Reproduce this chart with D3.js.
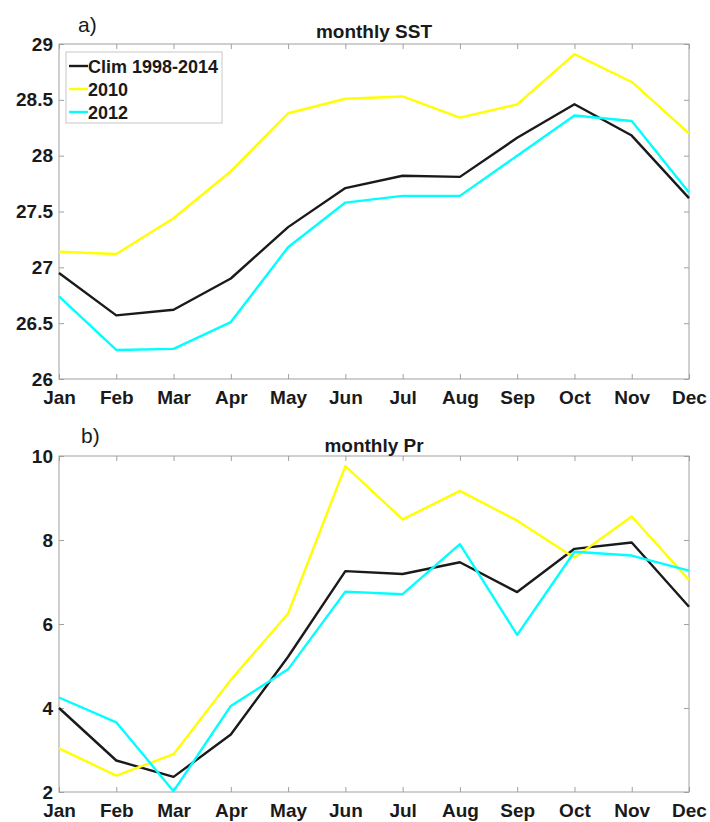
<!DOCTYPE html>
<html>
<head>
<meta charset="utf-8">
<script src="https://cdn.jsdelivr.net/npm/d3@7"></script>
<style>
  html, body { margin: 0; padding: 0; background: #fff; }
  text { font-family: "Liberation Sans", Arial, sans-serif; }
</style>
</head>
<body>
<svg id="chart" width="710" height="822"></svg>
<script>
const months = ["Jan","Feb","Mar","Apr","May","Jun","Jul","Aug","Sep","Oct","Nov","Dec"];
const seriesNames = ["Clim 1998-2014", "2010", "2012"];
const seriesColors = ["#1a1a1a", "#ffff00", "#00ffff"];

const sstClim = [26.95, 26.57, 26.62, 26.90, 27.36, 27.71, 27.82, 27.81, 28.16, 28.46, 28.18, 27.62];
const sst2010 = [27.14, 27.12, 27.44, 27.86, 28.38, 28.51, 28.53, 28.34, 28.46, 28.91, 28.66, 28.20];
const sst2012 = [26.74, 26.26, 26.27, 26.51, 27.18, 27.58, 27.64, 27.64, 28.00, 28.36, 28.31, 27.67];
const sstTicks = [26, 26.5, 27, 27.5, 28, 28.5, 29];

const prClim = [4.00, 2.75, 2.36, 3.37, 5.22, 7.26, 7.19, 7.47, 6.76, 7.79, 7.94, 6.41];
const pr2010 = [3.04, 2.39, 2.90, 4.67, 6.25, 9.76, 8.49, 9.17, 8.46, 7.58, 8.56, 7.05];
const pr2012 = [4.25, 3.66, 2.02, 4.05, 4.92, 6.77, 6.71, 7.90, 5.74, 7.72, 7.63, 7.27];
const prTicks = [2, 4, 6, 8, 10];

const svg = d3.select("#chart");
const FS = 19;

function panel(cfg) {
  const g = svg.append("g");
  const x = d3.scalePoint().domain(months).range([cfg.left, cfg.right]);
  const y = d3.scaleLinear().domain(cfg.domain).range([cfg.bottom, cfg.top]);
  const axisColor = "#a0a0a0";

  g.append("rect")
    .attr("x", cfg.left).attr("y", cfg.top)
    .attr("width", cfg.right - cfg.left).attr("height", cfg.bottom - cfg.top)
    .attr("fill", "none").attr("stroke", axisColor).attr("stroke-width", 1);

  const xa = g.append("g").attr("transform", `translate(0,${cfg.bottom})`)
    .call(d3.axisBottom(x).tickSize(-5).tickPadding(12));
  xa.select(".domain").remove();
  xa.selectAll("line").attr("stroke", axisColor);
  xa.selectAll("text").attr("fill", "#1a1a1a").attr("font-size", FS).attr("font-weight", "bold");
  const xt = g.append("g").attr("transform", `translate(0,${cfg.top})`)
    .call(d3.axisTop(x).tickSize(-5).tickFormat(""));
  xt.select(".domain").remove();
  xt.selectAll("line").attr("stroke", axisColor);

  const ya = g.append("g").attr("transform", `translate(${cfg.left},0)`)
    .call(d3.axisLeft(y).tickValues(cfg.ticks).tickSize(-5).tickPadding(6).tickFormat(d3.format("")));
  ya.select(".domain").remove();
  ya.selectAll("line").attr("stroke", axisColor);
  ya.selectAll("text").attr("fill", "#1a1a1a").attr("font-size", FS).attr("font-weight", "bold");
  const yr = g.append("g").attr("transform", `translate(${cfg.right},0)`)
    .call(d3.axisRight(y).tickValues(cfg.ticks).tickSize(-5).tickFormat(""));
  yr.select(".domain").remove();
  yr.selectAll("line").attr("stroke", axisColor);

  const line = d3.line().x((d, i) => x(months[i])).y(d => y(d));
  cfg.series.forEach((s, k) => {
    g.append("path").datum(s)
      .attr("fill", "none").attr("stroke", seriesColors[k])
      .attr("stroke-width", 2.4).attr("stroke-linejoin", "round")
      .attr("d", line);
  });

  g.append("text").attr("x", (cfg.left + cfg.right) / 2).attr("y", cfg.top - cfg.titleGap)
    .attr("text-anchor", "middle").attr("font-size", FS).attr("font-weight", "bold")
    .attr("fill", "#1a1a1a").text(cfg.title);
  g.append("text").attr("x", cfg.labelX).attr("y", cfg.top - cfg.labelGap)
    .attr("font-size", 21).attr("fill", "#1a1a1a").text(cfg.label);
  return {x, y, g};
}

panel({left: 59, right: 689, top: 44, bottom: 379, domain: [26, 29], ticks: sstTicks,
  series: [sstClim, sst2010, sst2012], title: "monthly SST", label: "a)", labelX: 78,
  titleGap: 6, labelGap: 12});
panel({left: 59, right: 689, top: 456, bottom: 792, domain: [2, 10], ticks: prTicks,
  series: [prClim, pr2010, pr2012], title: "monthly Pr", label: "b)", labelX: 81,
  titleGap: 4, labelGap: 13});

const lg = svg.append("g");
lg.append("rect").attr("x", 66).attr("y", 52).attr("width", 156).attr("height", 71)
  .attr("fill", "#fff").attr("stroke", "#c8c8c8").attr("stroke-width", 1);
seriesNames.forEach((n, i) => {
  const yy = 66 + i * 23;
  lg.append("line").attr("x1", 69).attr("x2", 88).attr("y1", yy).attr("y2", yy)
    .attr("stroke", seriesColors[i]).attr("stroke-width", 2.4);
  lg.append("text").attr("x", 88).attr("y", yy + 6.5).attr("font-size", 18)
    .attr("font-weight", "bold").attr("fill", "#1a1a1a").text(n);
});
</script>
</body>
</html>
